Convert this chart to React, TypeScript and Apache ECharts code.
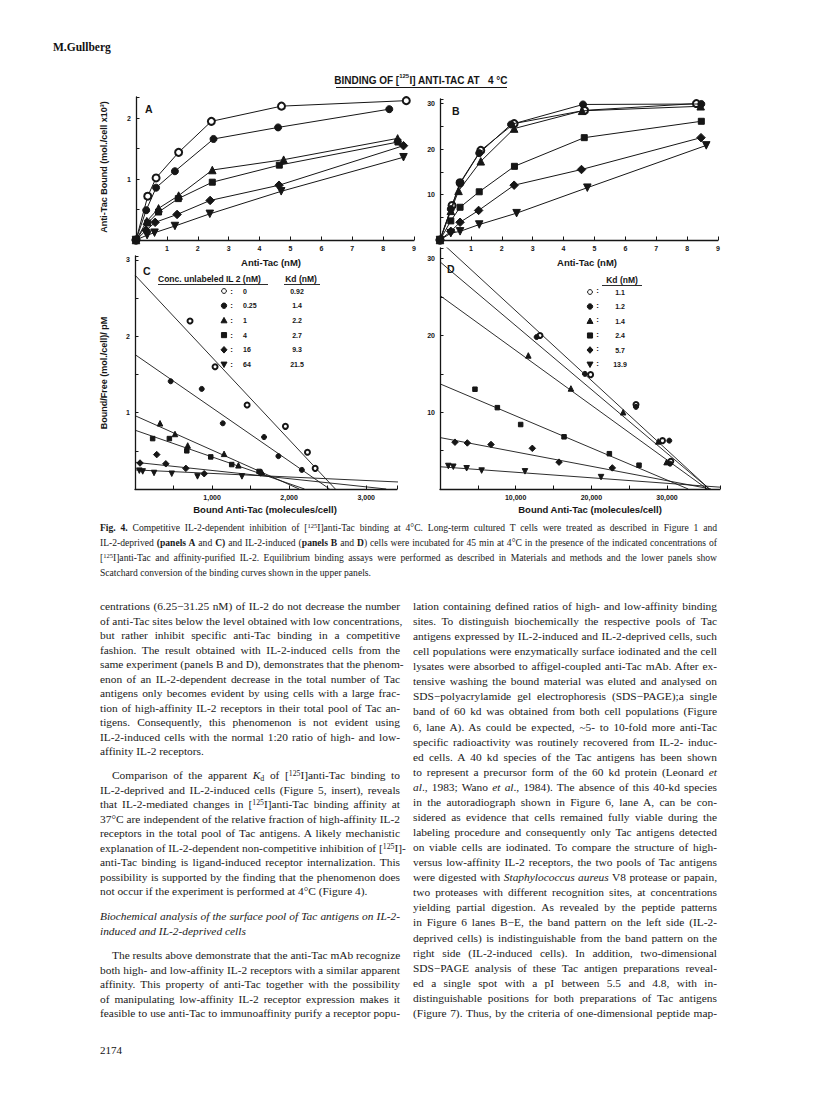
import React, { useEffect, useRef } from "react";
import * as echarts from "echarts";

// ---------------- Panel A: IL-2-deprived cells, [125I]anti-Tac binding (x: nM, y: mol./cell x10^3)
const aOpen = [[0, 0], [0.38, 0.72], [0.65, 1.02], [1.38, 1.44], [2.44, 1.95], [4.71, 2.2], [8.75, 2.29]];
const aFilled = [[0, 0], [0.33, 0.49], [0.65, 0.86], [1.26, 1.13], [2.51, 1.66], [4.6, 1.85], [8.2, 2.15]];
const aTri = [[0, 0], [0.35, 0.31], [0.73, 0.52], [1.38, 0.73], [2.47, 1.15], [4.78, 1.32], [8.47, 1.67]];
const aSquare = [[0, 0], [0.38, 0.28], [0.73, 0.46], [1.37, 0.68], [2.47, 0.95], [4.64, 1.23], [8.48, 1.61]];
const aDiamond = [[0, 0], [0.33, 0.16], [0.62, 0.29], [1.33, 0.42], [2.4, 0.65], [4.63, 0.9], [8.66, 1.55]];
const aTriDown = [[0, 0], [0.36, 0.08], [0.6, 0.12], [1.26, 0.23], [2.39, 0.43], [4.7, 0.8], [8.66, 1.36]];

// ---------------- Panel B: IL-2-induced cells
const bOpen = [[0, 0], [0.39, 7.6], [0.65, 12.6], [1.32, 19.7], [2.4, 25.6], [4.68, 28.5], [8.3, 30.0]];
const bFilled = [[0, 0], [0.35, 6.8], [0.65, 12.4], [1.27, 19.1], [2.3, 25.4], [4.63, 29.8], [8.46, 29.9]];
const bTri = [[0, 0], [0.35, 6.4], [0.6, 10.8], [1.32, 17.3], [2.4, 24.5], [4.6, 28.4], [8.44, 29.4]];
const bSquare = [[0, 0], [0.35, 4.2], [0.65, 7.2], [1.27, 10.6], [2.41, 16.2], [4.67, 22.5], [8.46, 26.1]];
const bDiamond = [[0, 0], [0.35, 1.9], [0.65, 3.9], [1.25, 6.5], [2.4, 12.05], [4.58, 15.5], [8.45, 22.5]];
const bTriDown = [[0, 0], [0.35, 1.5], [0.65, 1.9], [1.27, 3.4], [2.48, 5.9], [4.77, 11.5], [8.62, 20.8]];

// ---------------- Panel C: Scatchard, IL-2-deprived (x: molecules/cell, y: bound/free)
const cOpen = [[714, 2.2], [1039, 1.6], [1455, 1.1], [1952, 0.82], [2238, 0.48], [2338, 0.27]];
const cFilled = [[463, 1.41], [866, 1.31], [1139, 0.86], [1675, 0.68], [1861, 0.43], [2165, 0.25]];
const cTri = [[325, 0.86], [519, 0.72], [684, 0.57], [1156, 0.46], [1342, 0.31], [1645, 0.22]];
const cSquare = [[229, 0.66], [446, 0.66], [672, 0.5], [983, 0.42], [1255, 0.32], [1610, 0.23]];
const cDiamond = [[65, 0.34], [282, 0.45], [400, 0.33], [660, 0.27], [898, 0.2], [1630, 0.21]];
const cTriDown = [[56, 0.24], [100, 0.23], [247, 0.21], [477, 0.2], [811, 0.165], [1388, 0.165]];
const cLineYInt = [2.8, 1.76, 0.96, 0.77, 0.35, 0.25];
const cLineXInt = [2600, 2525, 2130, 2200, 3260, 5400];

// ---------------- Panel D: Scatchard, IL-2-induced
const dOpen = [[13210, 20.0], [19900, 14.9], [25900, 11.0], [29400, 6.3], [30500, 3.6]];
const dFilled = [[12770, 19.8], [19150, 15.0], [25900, 10.7], [30300, 6.3], [30400, 3.3]];
const dTri = [[11670, 17.4], [17300, 13.1], [24200, 10.0], [28840, 6.2], [29940, 3.5]];
const dSquare = [[4620, 13.0], [7580, 10.6], [10660, 8.4], [16390, 6.8], [22380, 4.6], [26300, 3.1]];
const dDiamond = [[1980, 6.1], [3610, 6.0], [6740, 5.8], [12200, 5.3], [15730, 3.5], [22770, 2.75]];
const dTriDown = [[1100, 3.0], [1760, 2.9], [3520, 2.7], [5500, 2.4], [11230, 2.3], [21280, 1.55]];
const dLineYInt = [32.3, 29.6, 25.2, 13.7, 6.7, 2.9];
const dLineXInt = [35600, 35600, 35300, 32800, 35800, 40300];

// ---------------- Legends
const il2Conc = ["0", "0.25", "1", "4", "16", "64"];
const kdC = ["0.92", "1.4", "2.2", "2.7", "9.3", "21.5"];
const kdD = ["1.1", "1.2", "1.4", "2.4", "5.7", "13.9"];

// ---------------- Tick labels
const tickLabelsNM = [1, 2, 3, 4, 5, 6, 7, 8, 9];
const tickLabelsA_Y = [1, 2];
const tickLabelsB_Y = [10, 20, 30];
const tickLabelsC_Y = [1, 2, 3];
const tickLabelsC_X = [1000, 2000, 3000];
const tickLabelsD_Y = [10, 20, 30];
const tickLabelsD_X = [10000, 20000, 30000];

const BLACK = "#161616";
const SANS = '"Liberation Sans", Arial, Helvetica, sans-serif';
const SERIF = '"Liberation Serif", "Times New Roman", Times, serif';

const SYMBOLS = [
  { symbol: "emptyCircle", rotate: 0, up: 7, low: 5 },
  { symbol: "circle", rotate: 0, up: 7, low: 5 },
  { symbol: "triangle", rotate: 0, up: 7.5, low: 5.5 },
  { symbol: "rect", rotate: 0, up: 6, low: 4.5 },
  { symbol: "diamond", rotate: 0, up: 8.5, low: 6.5 },
  { symbol: "triangle", rotate: 180, up: 7.5, low: 5.5 },
];

const fmtThousands = (v: number) => v.toLocaleString("en-US");

function axis(grid: number, min: number, max: number, interval: number, labels: number[], fmt?: (v: number) => string) {
  return {
    type: "value",
    gridIndex: grid,
    min,
    max,
    interval,
    axisLine: { show: true, onZero: false, lineStyle: { color: BLACK, width: 1.3 } },
    axisTick: { show: true, inside: true, length: 3.5, lineStyle: { color: BLACK, width: 1 } },
    splitLine: { show: false },
    axisLabel: {
      show: true,
      color: BLACK,
      fontSize: 7,
      fontWeight: "bold",
      fontFamily: SANS,
      margin: 5,
      showMinLabel: true,
      showMaxLabel: true,
      hideOverlap: false,
      formatter: (v: number) => (labels.some((l) => Math.abs(l - v) < 1e-9) ? (fmt ? fmt(v) : String(v)) : ""),
    },
  };
}

function txt(text: string, x: number, y: number, size: number, opts: any = {}) {
  const align = opts.align || "left";
  const v = opts.valign || "middle";
  return {
    type: "text",
    x,
    y,
    rotation: opts.rotation || 0,
    silent: true,
    z: 50,
    style: {
      text,
      fontSize: size,
      fontWeight: opts.weight || "bold",
      fontFamily: opts.family || SANS,
      fill: BLACK,
      align,
      verticalAlign: v,
      textAlign: align,
      textVerticalAlign: v,
      rich: opts.rich,
    },
  };
}

function legendSym(i: number, cx: number, cy: number, s: number) {
  const st = { fill: i === 0 ? "#fff" : BLACK, stroke: BLACK, lineWidth: 1 };
  const h = s / 2;
  switch (i) {
    case 0:
      return { type: "circle", silent: true, z: 50, shape: { cx, cy, r: h * 0.8 }, style: st };
    case 1:
      return { type: "circle", silent: true, z: 50, shape: { cx, cy, r: h * 0.9 }, style: st };
    case 2:
      return { type: "polygon", silent: true, z: 50, shape: { points: [[cx, cy - h], [cx + h, cy + h * 0.8], [cx - h, cy + h * 0.8]] }, style: st };
    case 3:
      return { type: "rect", silent: true, z: 50, shape: { x: cx - h * 0.85, y: cy - h * 0.85, width: h * 1.7, height: h * 1.7 }, style: st };
    case 4:
      return { type: "polygon", silent: true, z: 50, shape: { points: [[cx, cy - h * 1.1], [cx + h, cy], [cx, cy + h * 1.1], [cx - h, cy]] }, style: st };
    default:
      return { type: "polygon", silent: true, z: 50, shape: { points: [[cx - h, cy - h * 0.8], [cx + h, cy - h * 0.8], [cx, cy + h]] }, style: st };
  }
}

function hline(x1: number, x2: number, y: number, w = 1) {
  return { type: "line", silent: true, z: 50, shape: { x1, y1: y, x2, y2: y }, style: { stroke: BLACK, lineWidth: w } };
}

function buildOption() {
  const grids = [
    { left: 136, top: 97, width: 278, height: 143 },
    { left: 440, top: 99, width: 278, height: 141 },
    { left: 135, top: 256, width: 262, height: 233 },
    { left: 440, top: 248, width: 280, height: 241 },
  ].map((g) => ({ ...g, containLabel: false, outerBoundsMode: "none", show: false }));

  const xAxis = [
    axis(0, 0, 9, 1, tickLabelsNM),
    axis(1, 0, 9, 1, tickLabelsNM),
    axis(2, 0, 3400, 500, tickLabelsC_X, fmtThousands),
    axis(3, 0, 37000, 5000, tickLabelsD_X, fmtThousands),
  ];
  const yAxis = [
    axis(0, 0, 2.35, 0.5, tickLabelsA_Y),
    axis(1, 0, 31, 5, tickLabelsB_Y),
    axis(2, 0, 3.05, 0.5, tickLabelsC_Y),
    axis(3, 0, 31.4, 5, tickLabelsD_Y),
  ];

  const upper = [
    [aOpen, aFilled, aTri, aSquare, aDiamond, aTriDown],
    [bOpen, bFilled, bTri, bSquare, bDiamond, bTriDown],
  ];
  const lowerPts = [
    [cOpen, cFilled, cTri, cSquare, cDiamond, cTriDown],
    [dOpen, dFilled, dTri, dSquare, dDiamond, dTriDown],
  ];
  const lowerLines = [
    [cLineYInt, cLineXInt],
    [dLineYInt, dLineXInt],
  ];

  const series: any[] = [];
  upper.forEach((set, p) => {
    set.forEach((data, i) => {
      series.push({
        type: "line",
        xAxisIndex: p,
        yAxisIndex: p,
        data,
        symbol: SYMBOLS[i].symbol,
        symbolRotate: SYMBOLS[i].rotate,
        symbolSize: SYMBOLS[i].up,
        showSymbol: true,
        showAllSymbol: true,
        lineStyle: { color: BLACK, width: 1 },
        itemStyle: { color: BLACK, borderColor: BLACK, borderWidth: 1 },
        silent: true,
        z: 3 + i,
      });
    });
  });
  lowerPts.forEach((set, p) => {
    const [yi, xi] = lowerLines[p];
    set.forEach((data, i) => {
      series.push({
        type: "line",
        xAxisIndex: p + 2,
        yAxisIndex: p + 2,
        data: [[0, yi[i]], [xi[i], 0]],
        symbol: "none",
        clip: true,
        lineStyle: { color: BLACK, width: 0.9 },
        silent: true,
        z: 2,
      });
      series.push({
        type: "scatter",
        xAxisIndex: p + 2,
        yAxisIndex: p + 2,
        data,
        symbol: SYMBOLS[i].symbol,
        symbolRotate: SYMBOLS[i].rotate,
        symbolSize: SYMBOLS[i].low,
        itemStyle: { color: BLACK, borderColor: BLACK, borderWidth: 1, opacity: 1 },
        silent: true,
        z: 4,
      });
    });
  });

  const graphic: any[] = [];
  // title
  graphic.push(
    txt("{a|BINDING OF [}{s|125}{a|I] ANTI-TAC AT   4 °C}", 421, 80, 10, {
      align: "center",
      rich: {
        a: { fontSize: 10, fontWeight: "bold", fontFamily: SANS, fill: BLACK, lineHeight: 14 },
        s: { fontSize: 6, fontWeight: "bold", fontFamily: SANS, fill: BLACK, verticalAlign: "top", lineHeight: 8 },
      },
    })
  );
  graphic.push(hline(336, 507, 87.5, 1.2));
  // panel letters
  graphic.push(txt("A", 145, 109, 10.5));
  graphic.push(txt("B", 452, 111, 10.5));
  graphic.push(txt("C", 143, 271, 10.5));
  graphic.push(txt("D", 447, 269, 10.5));
  // axis titles
  graphic.push(txt("Anti-Tac (nM)", 271, 262, 9.5, { align: "center" }));
  graphic.push(txt("Anti-Tac (nM)", 587, 262, 9.5, { align: "center" }));
  graphic.push(txt("Bound Anti-Tac (molecules/cell)", 265, 509, 9.5, { align: "center" }));
  graphic.push(txt("Bound Anti-Tac (molecules/cell)", 590, 509, 9.5, { align: "center" }));
  graphic.push(txt("Anti-Tac Bound (mol./cell x10³)", 104, 167, 9, { align: "center", rotation: Math.PI / 2 }));
  graphic.push(txt("Bound/Free (mol./cell)/ pM", 104, 373, 9, { align: "center", rotation: Math.PI / 2 }));
  // legend C
  graphic.push(txt("Conc. unlabeled IL 2 (nM)", 158, 279, 8.5));
  graphic.push(hline(158, 268, 284.5, 0.9));
  graphic.push(txt("Kd (nM)", 301, 279, 8.5, { align: "center" }));
  graphic.push(hline(284, 320, 284.5, 0.9));
  il2Conc.forEach((c, i) => {
    const y = 291 + i * 14.7;
    graphic.push(legendSym(i, 224, y, 6));
    graphic.push(txt(":", 231.5, y, 8, { align: "center" }));
    graphic.push(txt(c, 243, y, 7));
    graphic.push(txt(kdC[i], 297, y, 7, { align: "center" }));
  });
  // legend D
  graphic.push(txt("Kd (nM)", 622, 280, 8.5, { align: "center" }));
  graphic.push(hline(602, 642, 285.5, 0.9));
  kdD.forEach((k, i) => {
    const y = 292 + i * 14.5;
    graphic.push(legendSym(i, 590, y, 6));
    graphic.push(txt(":", 597.5, y - 1.5, 8, { align: "center" }));
    graphic.push(txt(k, 620, y, 7, { align: "center" }));
  });

  return {
    animation: false,
    backgroundColor: "#ffffff",
    grid: grids,
    xAxis,
    yAxis,
    series,
    graphic: { elements: graphic },
  };
}

// ---------------- Page text
function renderMarkup(s: string): React.ReactNode[] {
  const parts = s.split(/(\*\*[^*]+\*\*|\*[^*]+\*|\^[^^]+\^|_[^_]+_)/g).filter((p) => p !== "");
  return parts.map((p, i) => {
    if (p.startsWith("**")) return <b key={i}>{p.slice(2, -2)}</b>;
    if (p.startsWith("*")) return <i key={i}>{p.slice(1, -1)}</i>;
    if (p.startsWith("^")) return <sup key={i} style={{ fontSize: "0.68em", lineHeight: 0, verticalAlign: "0.45em" }}>{p.slice(1, -1)}</sup>;
    if (p.startsWith("_")) return <sub key={i} style={{ fontSize: "0.7em", lineHeight: 0, verticalAlign: "-0.2em" }}>{p.slice(1, -1)}</sub>;
    return <React.Fragment key={i}>{p}</React.Fragment>;
  });
}

type TLine = { t: string; y: number; last?: boolean; indent?: number; italic?: boolean };

const captionLines: TLine[] = [
  { y: 528, t: "**Fig. 4.** Competitive IL-2-dependent inhibition of [^125^I]anti-Tac binding at 4°C. Long-term cultured T cells were treated as described in Figure 1 and" },
  { y: 543, t: "IL-2-deprived **(panels A** and **C)** and IL-2-induced (**panels B** and **D**) cells were incubated for 45 min at 4°C in the presence of the indicated concentrations of" },
  { y: 558, t: "[^125^I]anti-Tac and affinity-purified IL-2. Equilibrium binding assays were performed as described in Materials and methods and the lower panels show" },
  { y: 572.5, t: "Scatchard conversion of the binding curves shown in the upper panels.", last: true },
];

const leftTexts: [string, number, boolean?, number?, boolean?][] = [
  ["centrations (6.25−31.25 nM) of IL-2 do not decrease the number", 606],
  ["of anti-Tac sites below the level obtained with low concentrations,", 620.5],
  ["but rather inhibit specific anti-Tac binding in a competitive", 635],
  ["fashion. The result obtained with IL-2-induced cells from the", 649.5],
  ["same experiment (panels B and D), demonstrates that the phenom-", 664],
  ["enon of an IL-2-dependent decrease in the total number of Tac", 678.5],
  ["antigens only becomes evident by using cells with a large frac-", 693],
  ["tion of high-affinity IL-2 receptors in their total pool of Tac an-", 707.5],
  ["tigens. Consequently, this phenomenon is not evident using", 722],
  ["IL-2-induced cells with the normal 1:20 ratio of high- and low-", 736.5],
  ["affinity IL-2 receptors.", 751, true],
  ["Comparison of the apparent *K*_d_ of [^125^I]anti-Tac binding to", 775, false, 12],
  ["IL-2-deprived and IL-2-induced cells (Figure 5, insert), reveals", 789.5],
  ["that IL-2-mediated changes in [^125^I]anti-Tac binding affinity at", 804],
  ["37°C are independent of the relative fraction of high-affinity IL-2", 818.5],
  ["receptors in the total pool of Tac antigens. A likely mechanistic", 833],
  ["explanation of IL-2-dependent non-competitive inhibition of [^125^I]-", 847.5],
  ["anti-Tac binding is ligand-induced receptor internalization. This", 862],
  ["possibility is supported by the finding that the phenomenon does", 876.5],
  ["not occur if the experiment is performed at 4°C (Figure 4).", 891, true],
  ["Biochemical analysis of the surface pool of Tac antigens on IL-2-", 916, false, 0, true],
  ["induced and IL-2-deprived cells", 930.5, true, 0, true],
  ["The results above demonstrate that the anti-Tac mAb recognize", 955, false, 12],
  ["both high- and low-affinity IL-2 receptors with a similar apparent", 969.5],
  ["affinity. This property of anti-Tac together with the possibility", 984],
  ["of manipulating low-affinity IL-2 receptor expression makes it", 998.5],
  ["feasible to use anti-Tac to immunoaffinity purify a receptor popu-", 1013],
];

const rightTexts: string[] = [
  "lation containing defined ratios of high- and low-affinity binding",
  "sites. To distinguish biochemically the respective pools of Tac",
  "antigens expressed by IL-2-induced and IL-2-deprived cells, such",
  "cell populations were enzymatically surface iodinated and the cell",
  "lysates were absorbed to affigel-coupled anti-Tac mAb. After ex-",
  "tensive washing the bound material was eluted and analysed on",
  "SDS−polyacrylamide gel electrophoresis (SDS−PAGE);a single",
  "band of 60 kd was obtained from both cell populations (Figure",
  "6, lane A). As could be expected, ~5- to 10-fold more anti-Tac",
  "specific radioactivity was routinely recovered from IL-2- induc-",
  "ed cells. A 40 kd species of the Tac antigens has been shown",
  "to represent a precursor form of the 60 kd protein (Leonard *et*",
  "*al*., 1983; Wano *et al*., 1984). The absence of this 40-kd species",
  "in the autoradiograph shown in Figure 6, lane A, can be con-",
  "sidered as evidence that cells remained fully viable during the",
  "labeling procedure and consequently only Tac antigens detected",
  "on viable cells are iodinated. To compare the structure of high-",
  "versus low-affinity IL-2 receptors, the two pools of Tac antigens",
  "were digested with *Staphylococcus aureus* V8 protease or papain,",
  "two proteases with different recognition sites, at concentrations",
  "yielding partial digestion. As revealed by the peptide patterns",
  "in Figure 6 lanes B−E, the band pattern on the left side (IL-2-",
  "deprived cells) is indistinguishable from the band pattern on the",
  "right side (IL-2-induced cells). In addition, two-dimensional",
  "SDS−PAGE analysis of these Tac antigen preparations reveal-",
  "ed a single spot with a pI between 5.5 and 4.8, with in-",
  "distinguishable positions for both preparations of Tac antigens",
  "(Figure 7). Thus, by the criteria of one-dimensional peptide map-",
];

const leftLines: TLine[] = leftTexts.map(([t, y, last, indent, italic]) => ({ t, y, last, indent, italic }));
const rightLines: TLine[] = rightTexts.map((t, i) => ({ t, y: 606 + i * 15.07 }));

function TextBlock({ lines, x, w, size, lh }: { lines: TLine[]; x: number; w: number; size: number; lh: number }) {
  return (
    <>
      {lines.map((l, i) => {
        const ind = l.indent || 0;
        return (
          <div
            key={i}
            style={{
              position: "absolute",
              left: x + ind,
              top: l.y - lh / 2,
              width: w - ind,
              height: lh,
              lineHeight: lh + "px",
              fontSize: size,
              fontFamily: SERIF,
              fontStyle: l.italic ? "italic" : "normal",
              color: "#1a1a1a",
              whiteSpace: "nowrap",
              textAlign: "justify",
              textAlignLast: l.last ? "left" : "justify",
              overflow: "visible",
            }}
          >
            {renderMarkup(l.t)}
          </div>
        );
      })}
    </>
  );
}

export default function App() {
  const ref = useRef<HTMLDivElement>(null);
  useEffect(() => {
    document.body.style.margin = "0";
    if (!ref.current) return;
    const chart = echarts.init(ref.current, undefined, { renderer: "svg", width: 816, height: 530 });
    chart.setOption(buildOption() as any);
    return () => chart.dispose();
  }, []);
  return (
    <div style={{ position: "absolute", left: 0, top: 0, width: 816, height: 1108, background: "#fff", overflow: "hidden" }}>
      <div ref={ref} style={{ position: "absolute", left: 0, top: 0, width: 816, height: 530 }} />
      <div style={{ position: "absolute", left: 53, top: 39, fontFamily: SERIF, fontWeight: "bold", fontSize: 11.5, color: "#111", lineHeight: "16px" }}>M.Gullberg</div>
      <TextBlock lines={captionLines} x={100} w={617} size={9.6} lh={14} />
      <TextBlock lines={leftLines} x={100} w={300} size={11.4} lh={14} />
      <TextBlock lines={rightLines} x={413} w={304} size={11.4} lh={14} />
      <div style={{ position: "absolute", left: 100, top: 1043, fontFamily: SERIF, fontSize: 11, color: "#111", lineHeight: "14px" }}>2174</div>
    </div>
  );
}
